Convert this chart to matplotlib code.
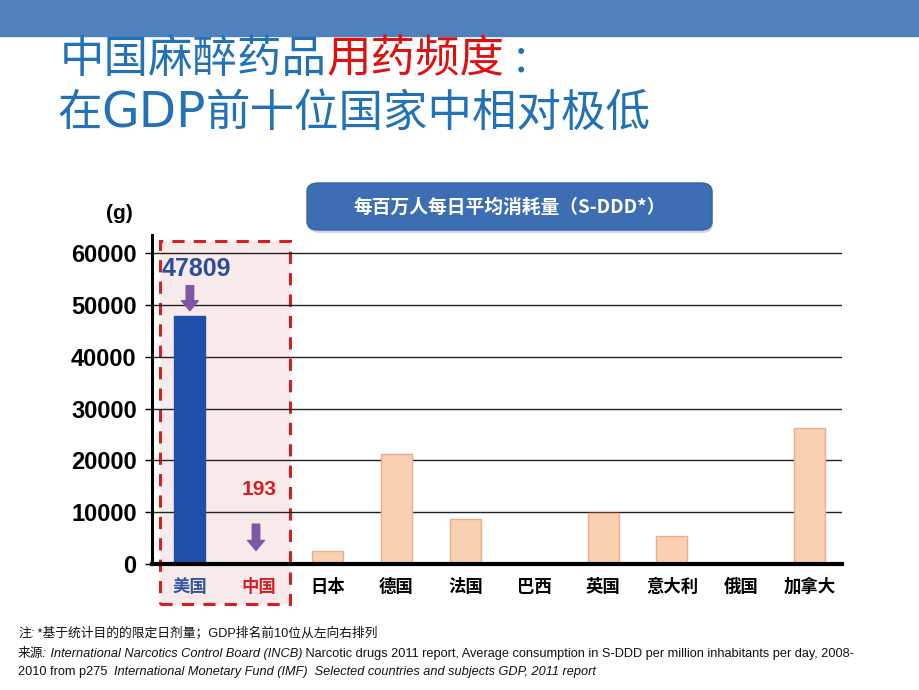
import matplotlib

matplotlib.use("Agg")
import matplotlib.pyplot as plt
from matplotlib.patches import Rectangle, FancyBboxPatch

CJK = ["Noto Sans CJK SC", "DejaVu Sans"]
NUM = ["Liberation Sans", "DejaVu Sans"]
NARROW = ["Liberation Sans Narrow", "Liberation Sans", "Noto Sans CJK SC", "DejaVu Sans"]
plt.rcParams["font.family"] = CJK
plt.rcParams["axes.unicode_minus"] = False

# --------------------------------------------------------------------------- #
# 数据
# --------------------------------------------------------------------------- #
countries = ["美国", "中国", "日本", "德国", "法国", "巴西", "英国", "意大利", "俄国", "加拿大"]
consumption = [47809, 193, 2500, 21200, 8700, 0, 9900, 5350, 0, 26250]
label_colors = ["#2F55A0", "#D42020", "k", "k", "k", "k", "k", "k", "k", "k"]
yticks = [0, 10000, 20000, 30000, 40000, 50000, 60000]

title_blue = "中国麻醉药品"
title_red = "用药频度"
title_line2 = ["在", "GDP", "前十位国家中相对极低"]
legend_text = "每百万人每日平均消耗量（S-DDD*）"

BLUE = "#1F4FA8"
PEACH = "#F9D0B2"
PEACH_EDGE = "#E8B08A"
PURPLE = "#7E57A6"
TITLE_BLUE = "#2272B8"

fig = plt.figure(figsize=(9.2, 6.9), dpi=100)
r = fig.canvas.get_renderer()

# 顶部色带
fig.patches.append(Rectangle((0, 1 - 36 / 690), 1, 36 / 690, transform=fig.transFigure,
                             color="#4F81BD", zorder=0))


def write_segments(x0, y, segments, **kw):
    """依次写出多段文字（颜色 / 字体可不同）。"""
    xpos = x0
    for s, opts in segments:
        style = dict(kw)
        style.update(opts)
        t = fig.text(xpos / 920, 1 - y / 690, s, ha="left", va="center", **style)
        xpos = t.get_window_extent(r).x1
    return xpos


# 标题
write_segments(60, 59, [(title_blue, {"color": TITLE_BLUE}),
                        (title_red, {"color": "#E01010"}),
                        (" :", {"color": TITLE_BLUE})], fontsize=32)
write_segments(57, 113, [(title_line2[0], {}),
                         (title_line2[1], {"fontfamily": ["DejaVu Sans"], "fontsize": 35}),
                         (title_line2[2], {})], fontsize=32, color=TITLE_BLUE)

# --------------------------------------------------------------------------- #
# 主图
# --------------------------------------------------------------------------- #
ax = fig.add_axes([152 / 920, 1 - 564 / 690, 690 / 920, 329 / 690])
x = list(range(len(countries)))

# 美国 / 中国 虚线框
ax.add_patch(Rectangle((-0.43, -7700), 1.88, 70000, facecolor="#F8EAEA",
                       edgecolor="#D42020", linestyle=(0, (4, 3)), linewidth=2.2,
                       clip_on=False, zorder=0))

bar_colors = [BLUE, BLUE] + [PEACH] * (len(countries) - 2)
edge_colors = [BLUE, BLUE] + [PEACH_EDGE] * (len(countries) - 2)
ax.bar(x, consumption, width=0.45, color=bar_colors, edgecolor=edge_colors,
       linewidth=1, zorder=3)

ax.set_xlim(-0.55, 9.47)
ax.set_ylim(0, 63500)
ax.set_yticks(yticks)
ax.set_yticklabels([str(v) for v in yticks], fontfamily=NUM, fontweight="bold",
                   fontsize=17)
ax.yaxis.grid(True, color="#222222", linewidth=1, zorder=1)
ax.set_axisbelow(True)
ax.tick_params(axis="y", length=5, width=1, direction="out", pad=6)

ax.set_xticks(x)
ax.set_xticklabels(countries, fontweight="bold", fontsize=12.5)
for lbl, c in zip(ax.get_xticklabels(), label_colors):
    lbl.set_color(c)
ax.tick_params(axis="x", length=0, pad=10)

ax.spines["top"].set_visible(False)
ax.spines["right"].set_visible(False)
ax.spines["left"].set_linewidth(2.2)
ax.spines["bottom"].set_linewidth(3)
ax.spines["bottom"].set_zorder(5)
ax.patch.set_alpha(0)

# 数值标注和箭头（偏移量单位：points）
ann_style = [
    # color, fontsize, text offset (dx, dy), arrow top, arrow bottom, arrow x shift
    ("#2B4D9E", 18, (4.5, 34), 22, 4, 0.0),
    ("#D42020", 15, (0, 53), 28, 9, -0.04),
]
for i, (col, fs, off, a_top, a_bot, dx) in enumerate(ann_style):
    v = consumption[i]
    ax.annotate(f"{v}", (x[i], v), xytext=off, textcoords="offset points",
                ha="center", va="center", color=col, fontsize=fs,
                fontweight="bold", fontfamily=NUM, zorder=6)
    ax.annotate("", xy=(x[i] + dx, v), xytext=(0, a_top),
                textcoords="offset points",
                arrowprops=dict(arrowstyle="simple,head_length=0.6,head_width=1.0,tail_width=0.45",
                                color=PURPLE, shrinkA=0, shrinkB=a_bot,
                                mutation_scale=12),
                zorder=6)

ax.text(-0.028, 1.035, "(g)", transform=ax.transAxes, ha="right", va="bottom",
        fontsize=15, fontweight="bold", fontfamily=NUM)

# 图例框
shadow = FancyBboxPatch((309 / 920, 1 - 233 / 690), 404 / 920, 47 / 690,
                        boxstyle="round,pad=0,rounding_size=0.012",
                        transform=fig.transFigure, facecolor="#BBBBBB",
                        edgecolor="none", alpha=0.6)
fig.patches.append(shadow)
box = FancyBboxPatch((307 / 920, 1 - 230 / 690), 405 / 920, 47 / 690,
                     boxstyle="round,pad=0,rounding_size=0.012",
                     transform=fig.transFigure, facecolor="#3D6DB3",
                     edgecolor="#3566AC")
fig.patches.append(box)
fig.text(510 / 920, 1 - 207 / 690, legend_text, color="white", fontsize=13.5,
         fontweight="bold", ha="center", va="center")

# --------------------------------------------------------------------------- #
# 脚注
# --------------------------------------------------------------------------- #
IT = {"fontstyle": "italic"}
NO = {}
foot = dict(fontsize=9.2, fontfamily=NARROW, color="#111111")
write_segments(18, 634, [("注:", IT), (" *基于统计目的的限定日剂量；GDP排名前10位从左向右排列", NO)], **foot)
write_segments(18, 654, [("来源:", IT), (" International Narcotics Control Board (INCB)", IT),
                         (" Narcotic drugs 2011 report, Average consumption in S-DDD per million "
                          "inhabitants per day, 2008-", NO)], **foot)
write_segments(18, 672, [("2010 from p275  ", NO),
                         ("International Monetary Fund (IMF)  Selected countries and subjects GDP, "
                          "2011 report", IT)], **foot)

fig.savefig("out.png", dpi=100)
